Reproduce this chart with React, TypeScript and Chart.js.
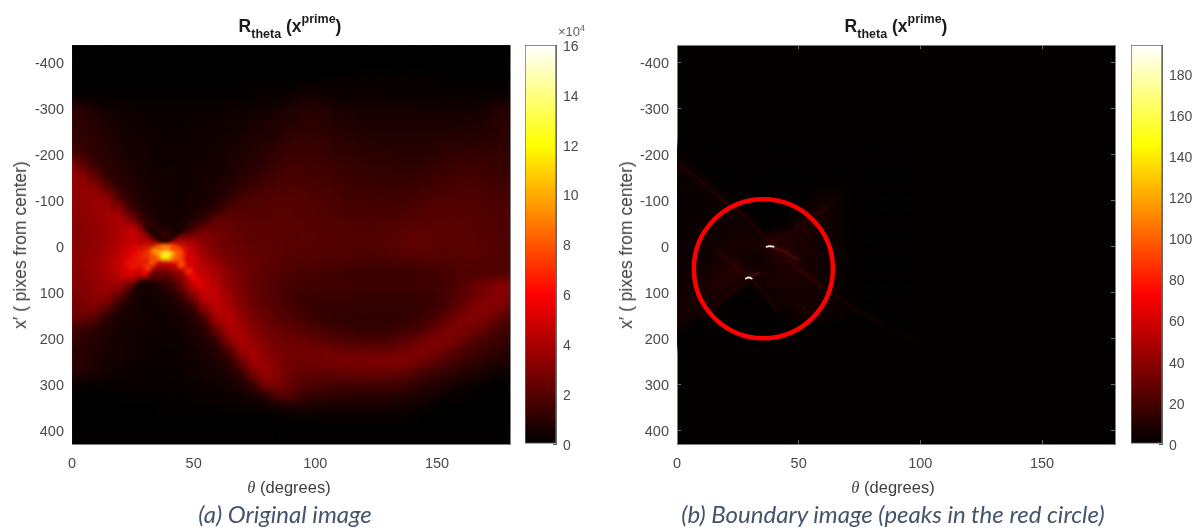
import React, { useEffect, useRef } from "react";
import { Chart, registerables } from "chart.js";

Chart.register(...registerables);

// ---------- data ----------
const thetaTicks = [0, 50, 100, 150];
const yTicks = [-400, -300, -200, -100, 0, 100, 200, 300, 400];
const barTicksA = [0, 2, 4, 6, 8, 10, 12, 14, 16];
const barTicksB = [0, 20, 40, 60, 80, 100, 120, 140, 160, 180];
const maxA = 16;
const maxB = 194;

const colsA = [0,5,10,15,20,25,30,35,40,45,50,55,60,65,70,75,80,85,90,95,100,105,110,115,120,125,130,135,140,145,150,155,160,165,170,175,180];
const rowsA = [-435,-411,-387,-363,-339,-315,-291,-267,-243,-219,-195,-171,-147,-123,-99,-75,-51,-27,-3,21,45,69,93,117,141,165,189,213,237,261,285,309,333,357,381,405,429];
// tenths of the colorbar unit (x 10^4)
const gridA = [
[1,1,1,1,1,1,1,1,1,1,1,1,1,1,1,1,1,1,1,1,1,1,1,1,1,1,1,1,1,1,1,1,1,1,1,1,1],
[1,1,1,1,1,1,1,1,1,1,1,1,1,1,1,1,1,1,1,1,1,1,1,1,1,1,1,1,1,1,1,1,1,1,1,1,1],
[1,1,1,1,1,1,1,1,1,1,1,1,1,1,1,1,1,1,1,1,1,1,1,1,1,1,1,1,1,1,1,1,1,1,1,1,1],
[1,1,1,1,1,1,1,1,1,1,1,1,1,1,1,1,1,1,1,1,1,1,2,2,2,2,2,2,2,2,2,1,1,1,1,1,1],
[1,1,1,1,1,1,1,1,1,1,1,1,1,1,1,2,2,2,2,3,3,3,3,3,3,3,3,3,3,2,2,2,2,2,2,2,2],
[2,2,2,2,2,2,2,2,2,2,2,2,2,2,2,2,3,3,4,6,7,5,4,4,4,4,4,3,3,3,3,3,3,3,4,4,4],
[11,10,7,5,4,4,3,3,3,3,3,3,3,4,4,5,5,6,8,9,10,8,7,6,6,6,6,6,6,5,5,5,5,5,6,8,10],
[12,11,9,7,5,4,4,3,3,3,4,4,4,5,5,6,7,8,9,10,11,10,9,8,7,7,7,7,7,7,7,7,7,7,8,10,11],
[13,12,10,8,6,5,4,4,3,4,4,4,5,5,6,7,8,9,11,12,12,11,10,9,8,8,8,8,8,8,8,8,8,9,9,10,12],
[14,13,11,9,7,6,5,4,4,4,4,5,5,6,7,8,9,11,13,14,14,13,12,11,10,10,9,9,9,9,10,10,10,10,11,11,12],
[16,15,12,10,8,6,5,4,4,4,5,5,6,7,8,9,11,13,15,15,15,14,13,12,11,11,11,10,10,10,11,12,12,13,13,13,13],
[34,22,13,11,9,7,6,5,4,5,5,5,6,7,8,10,12,15,17,17,16,16,15,14,13,12,12,11,11,12,13,14,15,15,15,14,14],
[36,35,24,12,10,8,6,5,5,5,5,6,6,8,10,12,15,17,18,18,17,17,16,15,14,14,13,13,13,14,15,16,17,17,16,15,15],
[36,37,35,22,11,9,7,5,5,5,5,6,7,9,12,15,18,19,20,20,19,18,17,16,15,15,15,15,15,16,17,18,19,19,18,17,17],
[36,37,38,36,18,10,7,6,5,5,6,6,8,11,18,20,20,21,21,21,20,19,18,17,17,16,16,16,17,18,19,20,20,20,19,18,18],
[35,36,38,40,35,15,8,6,5,5,6,8,11,20,21,21,21,22,22,21,21,20,19,18,18,18,18,18,19,20,21,21,21,21,20,19,19],
[34,35,37,40,44,33,12,7,5,6,8,13,24,24,23,22,22,22,22,22,21,21,20,20,20,19,20,20,21,21,22,22,22,22,21,20,20],
[33,34,36,39,43,50,38,10,6,8,18,30,28,26,24,23,23,22,22,22,22,21,21,20,20,20,21,22,23,23,23,22,22,22,21,20,20],
[33,34,36,39,44,50,46,40,44,46,42,34,30,27,25,24,23,23,22,22,22,21,21,21,21,21,22,23,25,25,23,22,22,23,22,21,20],
[34,35,37,40,46,56,68,85,90,70,52,38,32,29,27,25,24,23,22,22,21,21,21,20,20,20,21,22,23,23,22,22,22,23,22,21,20],
[34,35,38,42,50,64,68,48,50,60,54,45,37,31,28,26,24,22,21,20,20,19,19,18,17,17,17,18,18,19,19,20,21,21,21,20,19],
[33,34,37,41,48,58,38,22,24,34,50,50,42,34,29,26,23,21,19,18,18,17,16,15,15,15,15,15,15,16,17,18,20,20,21,21,22],
[32,33,36,39,38,24,7,8,12,24,48,52,46,36,30,26,22,20,18,17,17,16,16,16,16,16,16,16,16,16,16,18,21,25,29,33,35],
[30,32,35,36,22,8,5,5,7,13,30,50,49,40,31,26,22,20,17,15,15,15,15,15,14,14,14,14,14,15,15,18,22,27,31,34,33],
[27,30,32,24,9,6,5,4,5,7,12,36,48,44,34,28,24,21,18,16,14,13,13,13,13,13,13,13,13,14,16,19,25,31,34,33,27],
[24,26,22,9,7,6,5,4,4,6,8,16,42,46,38,30,26,23,20,18,16,14,13,12,12,12,12,12,14,16,19,25,31,33,31,25,20],
[15,14,10,8,6,5,4,4,4,5,7,10,26,44,42,34,29,26,24,22,19,17,16,15,14,14,14,16,17,20,26,31,32,29,24,19,16],
[13,12,9,7,6,5,4,4,4,4,6,8,12,34,44,38,32,28,28,27,25,23,21,19,18,18,19,21,25,29,32,32,28,22,18,15,13],
[12,11,8,7,6,5,4,3,3,4,5,7,9,17,38,42,35,31,29,29,29,29,28,27,27,27,27,29,31,32,30,25,21,17,14,12,10],
[11,10,8,6,5,4,3,3,3,4,5,6,7,10,24,40,38,32,28,28,28,29,30,31,31,32,32,32,30,26,22,18,15,12,10,8,7],
[10,8,7,5,4,3,3,3,3,3,4,5,6,7,11,30,38,33,27,24,24,24,24,25,25,25,25,24,21,17,14,12,10,8,6,4,3],
[2,2,2,2,3,3,3,2,2,3,3,4,5,6,7,13,30,32,26,21,19,18,17,17,17,17,17,16,14,11,9,7,5,3,2,1,1],
[1,1,1,1,1,2,2,2,2,2,2,3,3,4,5,6,9,20,22,15,13,12,11,11,10,10,10,10,8,7,5,3,2,1,1,1,1],
[1,1,1,1,1,1,1,1,2,2,2,2,2,3,3,3,4,5,7,8,7,6,6,6,6,6,6,5,4,3,2,1,1,1,1,1,1],
[1,1,1,1,1,1,1,1,1,1,1,1,1,1,1,1,1,1,2,2,2,2,2,2,2,2,2,2,2,1,1,1,1,1,1,1,1],
[1,1,1,1,1,1,1,1,1,1,1,1,1,1,1,1,1,1,1,1,1,1,1,1,1,1,1,1,1,1,1,1,1,1,1,1,1],
[1,1,1,1,1,1,1,1,1,1,1,1,1,1,1,1,1,1,1,1,1,1,1,1,1,1,1,1,1,1,1,1,1,1,1,1,1],
];

// dark notches above and below the peak (first) and the peak itself (after)
const peakThetaA = [37,39,35,41,33,43,31,45, 29,31,27,33,26,34, 34,36,38,40,42,44,36,38,40,42,36,38,40,42,34,44,33,31,29.5,45,48,50,52];
const peakYA =     [-14,-14,-22,-22,-32,-32,-42,-42, 84,84,94,94,104,104, 12,12,12,12,12,14, 5, 5, 5, 6,22,22,22,24,24,26,35,48,58,  40,55,68,80];
const peakValA =   [.5,.5,.5,.5,.5,.5,.6,.6, .5,.5,.6,.6,.6,.6, 9,12,15.5,15.5,12,8,8,9,9,7,10,12,12,9,8,8,8,7.5,6,8,7,6,5.5];

const colsB = [0,5,10,15,20,25,30,35,40,45,50,55,60,65,70,75,80,85,90,95,100];
const rowsB = [-204,-180,-156,-132,-108,-84,-60,-36,-12,12,36,60,84,108,132,156,180,204];
const gridB = [
[1,1,1,1,1,1,1,1,1,1,1,1,1,1,1,1,1,1,1,1,1],
[3,2,1,1,1,1,1,1,1,1,1,1,1,1,1,1,1,1,1,1,1],
[3,3,2,1,1,1,1,1,1,1,1,1,1,1,1,1,1,1,1,1,1],
[2,3,3,2,1,1,1,1,1,1,1,1,1,1,1,1,1,1,1,1,1],
[2,2,3,3,2,1,1,1,1,1,1,1,3,3,2,1,1,1,1,1,1],
[2,2,2,3,3,2,1,1,1,1,1,3,5,4,2,1,1,1,1,1,1],
[2,2,3,3,4,4,2,1,1,1,2,5,5,3,2,1,1,1,1,1,1],
[2,3,3,3,4,5,4,1,1,2,5,6,4,3,2,1,1,1,1,1,1],
[2,3,3,4,4,5,5,4,8,6,6,5,4,3,2,1,1,1,1,1,1],
[3,3,3,4,5,5,5,5,7,8,6,5,4,3,2,1,1,1,1,1,1],
[3,3,4,4,5,6,3,3,6,6,6,5,4,3,2,1,1,1,1,1,1],
[3,3,4,5,6,8,6,5,5,6,6,5,4,3,2,1,1,1,1,1,1],
[3,4,5,6,7,7,3,4,6,6,6,5,4,3,2,1,1,1,1,1,1],
[3,4,5,6,5,2,1,2,4,5,5,5,4,3,2,1,1,1,1,1,1],
[4,5,6,4,2,1,1,1,2,4,5,5,4,3,2,1,1,1,1,1,1],
[4,5,3,2,1,1,1,1,1,2,4,4,4,3,2,1,1,1,1,1,1],
[3,2,1,1,1,1,1,1,1,1,1,1,1,1,1,1,1,1,1,1,1],
[1,1,1,1,1,1,1,1,1,1,1,1,1,1,1,1,1,1,1,1,1],
];

const streakUpper = [{x:1,y:-178},{x:10,y:-140},{x:20,y:-95},{x:29,y:-60},{x:38,y:-5}];
const streakMiddle = [{x:38,y:-5},{x:50,y:50},{x:60,y:90}];
const streakLower = [{x:60,y:90},{x:72,y:132},{x:85,y:170}];
const streakFar = [{x:85,y:170},{x:100,y:210}];
const arm1UpRight = [{x:38,y:-3},{x:45,y:-25},{x:53,y:-56},{x:62,y:-85}];
const arm1DownRight = [{x:38,y:0},{x:44,y:12},{x:50,y:30}];
const arm2UpLeft = [{x:29.5,y:68},{x:24,y:45},{x:17,y:10}];
const arm2DownLeft = [{x:29.5,y:70},{x:20,y:110},{x:10,y:155}];
const arm2DownRight = [{x:29.5,y:70},{x:35,y:95},{x:41,y:139}];
const arm2UpRight = [{x:29.5,y:68},{x:34,y:58}];
const peak1 = [{x:36.5,y:2},{x:38,y:0},{x:40,y:1.5}];
const peak2 = [{x:28,y:71},{x:29.5,y:68},{x:31,y:71}];
const circleCentre = [{x:35.5,y:49}];

// ---------- helpers ----------
const yMin = -437;
const yMax = 430;
const FONT = "'Liberation Sans', Arial, sans-serif";
const tickColor = "#4a4a4a";
const frame = "#808080";

function hot(v: number, max: number): string {
  const t = v / max;
  const c = (x: number) => Math.round(255 * Math.max(0, Math.min(1, x)));
  return `rgb(${c(t / 0.375)},${c((t - 0.375) / 0.375)},${c((t - 0.75) / 0.25)})`;
}

const blurPlugin = {
  id: "blurPlugin",
  beforeDraw(chart: any) {
    const bg = chart.options.plugins.blurPlugin?.bg;
    if (bg && chart.chartArea) {
      const a = chart.chartArea;
      chart.ctx.fillStyle = bg;
      chart.ctx.fillRect(a.left, a.top, a.width, a.height);
    }
  },
  beforeDatasetDraw(chart: any, args: any) {
    const b = chart.data.datasets[args.index].blur;
    chart.ctx.save();
    if (b) chart.ctx.filter = `blur(${b}px)`;
  },
  afterDatasetDraw(chart: any) {
    chart.ctx.restore();
  },
};

function gridPoints(cols: number[], rows: number[], grid: number[][], scale: number) {
  const pts: { x: number; y: number; v: number }[] = [];
  grid.forEach((row, r) => row.forEach((v, c) => pts.push({ x: cols[c], y: rows[r], v: v * scale })));
  return pts;
}

function cellDataset(pts: { x: number; y: number; v: number }[], max: number, half: number, blur: number) {
  return {
    type: "scatter",
    data: pts,
    blur,
    clip: 0,
    showLine: false,
    pointStyle: "rect",
    pointRadius: half / Math.SQRT1_2,
    pointBorderWidth: 0,
    pointBackgroundColor: pts.map((p) => hot(p.v, max)),
  };
}

function lineDataset(data: { x: number; y: number }[], color: string, width: number, blur: number) {
  return {
    type: "line",
    data,
    blur,
    clip: 0,
    borderColor: color,
    borderWidth: width,
    pointRadius: 0,
    tension: 0.2,
    fill: false,
  };
}

function heatScales() {
  const font = { family: FONT, size: 14.5 };
  const inner = { drawOnChartArea: false, tickLength: -4, color: "#6a6a6a" };
  const setTicks = (vals: number[]) => (s: any) => {
    s.ticks = vals.map((value) => ({ value }));
  };
  return {
    x: {
      type: "linear", position: "bottom", min: 0, max: 180,
      afterBuildTicks: setTicks(thetaTicks),
      afterFit: (s: any) => { s.height = 86; },
      grid: inner, border: { color: frame },
      ticks: { font, color: tickColor, padding: 15, maxRotation: 0, autoSkip: false, callback: (v: any) => String(v) },
    },
    y: {
      type: "linear", position: "left", min: yMin, max: yMax, reverse: true,
      afterBuildTicks: setTicks(yTicks),
      afterFit: (s: any) => { s.width = 72; },
      grid: inner, border: { color: frame },
      ticks: { font, color: tickColor, padding: 12, labelOffset: 2, autoSkip: false, callback: (v: any) => String(v) },
    },
    xTop: {
      type: "linear", position: "top", min: 0, max: 180,
      afterBuildTicks: setTicks(thetaTicks),
      afterFit: (s: any) => { s.height = 0; },
      grid: inner, border: { color: frame }, ticks: { display: false },
    },
    yRight: {
      type: "linear", position: "right", min: yMin, max: yMax, reverse: true,
      afterBuildTicks: setTicks(yTicks),
      afterFit: (s: any) => { s.width = 0; },
      grid: inner, border: { color: frame }, ticks: { display: false },
    },
  };
}

function heatConfig(datasets: any[], bg: string) {
  return {
    type: "scatter",
    data: { datasets },
    plugins: [blurPlugin],
    options: {
      animation: false,
      responsive: false,
      events: [],
      layout: { autoPadding: false, padding: { left: 0, right: 10, top: 45, bottom: 0 } },
      plugins: { legend: { display: false }, tooltip: { enabled: false }, title: { display: false }, blurPlugin: { bg } },
      scales: heatScales(),
    },
  };
}

function barConfig(max: number, ticks: number[]) {
  return {
    type: "bar",
    data: {
      labels: ["colorbar"],
      datasets: [
        {
          data: [max],
          barPercentage: 1,
          categoryPercentage: 1,
          borderColor: "#666666",
          borderWidth: 1,
          borderSkipped: false,
          backgroundColor: (ctx: any) => {
            const a = ctx.chart.chartArea;
            if (!a) return "#000";
            const g = ctx.chart.ctx.createLinearGradient(0, a.bottom, 0, a.top);
            [0, 0.125, 0.25, 0.375, 0.5625, 0.75, 0.875, 1].forEach((s) => g.addColorStop(s, hot(s * max, max)));
            return g;
          },
        },
      ],
    },
    options: {
      animation: false,
      responsive: false,
      events: [],
      layout: { autoPadding: false, padding: { left: 10, right: 0, top: 45, bottom: 86 } },
      plugins: { legend: { display: false }, tooltip: { enabled: false } },
      scales: {
        x: { display: false },
        y: {
          type: "linear", position: "right", min: 0, max,
          afterBuildTicks: (s: any) => { s.ticks = ticks.map((value) => ({ value })); },
          afterFit: (s: any) => { s.width = 36; },
          grid: { drawOnChartArea: false, tickLength: -3, color: "#555555" },
          border: { color: "#666666" },
          ticks: { font: { family: FONT, size: 14 }, color: tickColor, padding: 10, labelOffset: 2, autoSkip: false, callback: (v: any) => String(v) },
        },
      },
    },
  };
}

const configA = () =>
  heatConfig(
    [
      cellDataset(peakThetaA.map((x, i) => ({ x, y: peakYA[i], v: peakValA[i] })), maxA, 3.5, 2),
      cellDataset(gridPoints(colsA, rowsA, gridA, 0.1), maxA, 8, 4.5),
    ],
    "#050000"
  );

const configB = () =>
  heatConfig(
    [
      {
        type: "scatter", data: circleCentre, clip: false, showLine: false, pointRadius: 69.5,
        pointBorderWidth: 4.5, pointBorderColor: "#ff0000", pointBackgroundColor: "rgba(0,0,0,0)",
      },
      lineDataset(peak1, "#ffffff", 1.6, 0.5),
      lineDataset(peak2, "#ffffff", 1.6, 0.5),
      lineDataset(arm1DownRight, "#551206", 2, 1.3),
      lineDataset(arm2UpRight, "#551206", 2, 1.3),
      lineDataset(streakUpper, "#2e0000", 2, 0.9),
      lineDataset(streakMiddle, "#420000", 2, 0.9),
      lineDataset(streakLower, "#240000", 2, 0.9),
      lineDataset(streakFar, "#100000", 2, 0.9),
      lineDataset(arm1UpRight, "#2c0000", 2.5, 1.3),
      lineDataset(arm2UpLeft, "#340000", 2.5, 1.3),
      lineDataset(arm2DownLeft, "#2a0000", 2.5, 1.3),
      lineDataset(arm2DownRight, "#280000", 2.5, 1.3),
      cellDataset(gridPoints(colsB, rowsB, gridB, 1.5), maxB, 8, 4.5),
    ],
    "#050000"
  );

function ChartBox({ left, width, make }: { left: number; width: number; make: () => any }) {
  const ref = useRef<HTMLCanvasElement>(null);
  useEffect(() => {
    const chart = new Chart(ref.current as HTMLCanvasElement, make());
    return () => chart.destroy();
  }, []);
  return <canvas ref={ref} width={width} height={530} style={{ position: "absolute", left, top: 0, width, height: 530 }} />;
}

const textBase: React.CSSProperties = { position: "absolute", fontFamily: FONT, whiteSpace: "nowrap", color: "#404040" };

function Title({ cx }: { cx: number }) {
  return (
    <div style={{ ...textBase, left: cx, top: 16, transform: "translateX(-50%)", color: "#1c1c1c", fontWeight: "bold", fontSize: 17.5, lineHeight: "20px" }}>
      R<span style={{ fontSize: 12.5, position: "relative", top: 6 }}>theta</span> (x
      <span style={{ fontSize: 12.5, position: "relative", top: -9 }}>prime</span>)
    </div>
  );
}

function XLabel({ cx }: { cx: number }) {
  return (
    <div style={{ ...textBase, left: cx, top: 477, transform: "translateX(-50%)", fontSize: 16.5, lineHeight: "20px" }}>
      <span style={{ fontFamily: "'Liberation Serif', serif", fontStyle: "italic" }}>θ</span> (degrees)
    </div>
  );
}

function YLabel({ cx }: { cx: number }) {
  return (
    <div style={{ ...textBase, left: cx, top: 245, transform: "translate(-50%,-50%) rotate(-90deg)", fontSize: 17.5, lineHeight: "20px" }}>
      x′ ( pixes from center)
    </div>
  );
}

function Caption({ cx, text }: { cx: number; text: string }) {
  return (
    <div style={{ position: "absolute", left: cx, top: 499, transform: "translateX(-50%)", fontFamily: "Lato, sans-serif", fontStyle: "italic", fontSize: 24, lineHeight: "30px", color: "#44546a", whiteSpace: "nowrap" }}>
      {text}
    </div>
  );
}

export default function App() {
  return (
    <div style={{ position: "absolute", left: 0, top: 0, width: 1198, height: 530, background: "#ffffff", overflow: "hidden" }}>
      <ChartBox left={0} width={520} make={configA} />
      <ChartBox left={515} width={77} make={() => barConfig(maxA, barTicksA)} />
      <ChartBox left={605} width={520} make={configB} />
      <ChartBox left={1121} width={77} make={() => barConfig(maxB, barTicksB)} />
      <Title cx={290} />
      <Title cx={896} />
      <XLabel cx={289} />
      <XLabel cx={893} />
      <YLabel cx={20} />
      <YLabel cx={626} />
      <div style={{ ...textBase, left: 558, top: 25, fontSize: 13, lineHeight: "14px", color: "#606060" }}>
        ×10<span style={{ fontSize: 9, position: "relative", top: -5 }}>4</span>
      </div>
      <Caption cx={285} text="(a) Original image" />
      <Caption cx={893} text="(b) Boundary image (peaks in the red circle)" />
    </div>
  );
}
